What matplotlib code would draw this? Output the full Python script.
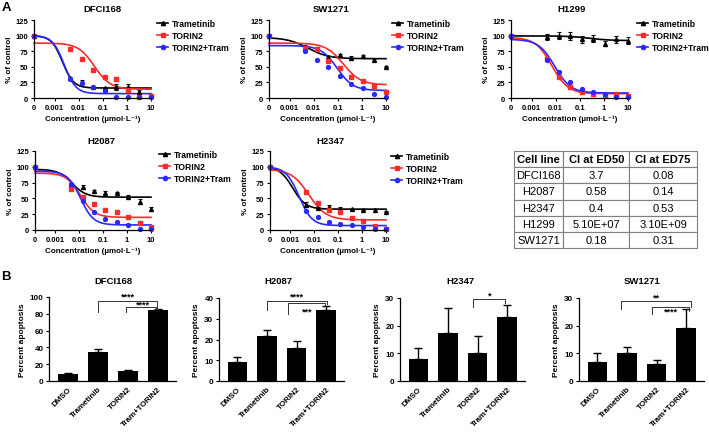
import numpy as np
import matplotlib
matplotlib.use('Agg')
import matplotlib.pyplot as plt
from matplotlib.lines import Line2D

plt.rcParams['font.family'] = ['Liberation Sans', 'DejaVu Sans']
plt.rcParams['font.weight'] = 'bold'
plt.rcParams['axes.labelweight'] = 'bold'
plt.rcParams['axes.linewidth'] = 0.9

W, H = 709, 439

# ---- panel A data: dose points (umol/L), control drawn at "0" ----
conc = [0.0046, 0.0137, 0.041, 0.123, 0.37, 1.11, 3.33, 10]
zero_pos = -3.85  # log10 position of the "0" tick
xtick_labels = ['0', '0.001', '0.01', '0.1', '1', '10']
control = 100

# fitted curves: [top, bottom, logIC50, hill]
dfci_tram = [32, 26, 18, 16, 18, 17, 10, 4]
dfci_tram_err = [2, 3, 2, 2, 5, 5, 3, 1]
dfci_tor = [78, 62, 45, 34, 31, 13, 2, 3]
dfci_combo = [30, 24, 18, 12, 2, 1, 1, 2]
dfci_fit = [[100, 16, -2.67, 1.9], [88, 14, -1.35, 1.3], [100, 7, -2.60, 1.8]]

sw_tram = [82, 78, 65, 69, 64, 67, 61, 50]
sw_tram_err = [3, 3, 3, 2, 3, 2, 2, 1]
sw_tor = [80, 78, 60, 48, 33, 28, 19, 10]
sw_combo = [75, 61, 49, 36, 22, 16, 6, 1]
sw_fit = [[97, 63, -2.24, 1.0], [88, 21, -0.77, 1.2], [84, 12, -1.03, 1.3]]

h1299_tram = [98, 100, 99, 94, 95, 87, 94, 92]
h1299_tram_err = [5, 6, 6, 6, 6, 4, 6, 6]
h1299_tor = [62, 34, 18, 10, 6, 5, 6, 4]
h1299_combo = [61, 42, 26, 14, 10, 6, 2, 1]
h1299_fit = [[99.5, 92, -0.6, 1.0], [97, 7, -2.16, 1.3], [94, 8, -2.04, 1.3]]

h2087_tram = [72, 68, 61, 59, 59, 52, 45, 33]
h2087_tram_err = [3, 3, 2, 2, 1, 3, 4, 3]
h2087_tor = [65, 52, 41, 31, 29, 21, 11, 4]
h2087_combo = [72, 46, 28, 17, 12, 8, 2, 1]
h2087_fit = [[96, 52, -2.30, 1.5], [90, 20, -1.95, 1.5], [93, 8, -1.95, 1.6]]

h2347_tram = [40, 35, 36, 34, 33, 32, 31, 29]
h2347_tram_err = [4, 2, 3, 2, 1, 1, 2, 1]
h2347_tor = [60, 42, 32, 28, 19, 14, 6, 1]
h2347_combo = [30, 20, 13, 9, 8, 4, 1, 1]
h2347_fit = [[100, 33, -2.9, 1.6], [96, 16, -2.23, 1.2], [100, 7, -2.64, 1.6]]

# ---- table ----
table_cols = ['Cell line', 'CI at ED50', 'CI at ED75']
table_lines = ['DFCI168', 'H2087', 'H2347', 'H1299', 'SW1271']
ci_ed50 = ['3.7', '0.58', '0.4', '5.10E+07', '0.18']
ci_ed75 = ['0.08', '0.14', '0.53', '3.10E+09', '0.31']

# ---- panel B data ----
groups = ['DMSO', 'Trametinib', 'TORIN2', 'Tram+TORIN2']
apo_dfci = [8, 35, 12.5, 84.5]
apo_dfci_err = [1, 3.5, 1, 1]
apo_h2087 = [9, 21.5, 16, 34]
apo_h2087_err = [2.5, 3, 3.5, 2]
apo_h2347 = [8, 17.5, 10.3, 23]
apo_h2347_err = [4, 9, 6, 4.5]
apo_sw = [7, 10.2, 6, 19]
apo_sw_err = [3.3, 2, 1.7, 7]

RED = '#ff2a2a'
BLUE = '#2a2aff'

fig = plt.figure(figsize=(W / 100, H / 100), dpi=100)


def box(l, t, r, b):
    return [l / W, 1 - b / H, (r - l) / W, (b - t) / H]


def ftext(x, y, s, **kw):
    fig.text(x / W, 1 - y / H, s, ha='center', va='center', **kw)


def logistic(x, p):
    top, bot, c, h = p
    return bot + (top - bot) / (1 + 10 ** ((x - c) * h))


def dose_panel(px, title, txy, tram, tram_err, tor, combo, fits, lxy):
    ax = fig.add_axes(box(*px))
    xs = [zero_pos] + list(np.log10(conc))
    xx = np.linspace(zero_pos, 1, 300)
    series = [(tram, tram_err, fits[0], 'k', '^'),
              (tor, None, fits[1], RED, 's'),
              (combo, None, fits[2], BLUE, 'o')]
    for vals, err, fit, col, mk in series:
        ax.plot(xx, logistic(xx, fit), color=col, lw=1.2, clip_on=False)
        e = None if err is None else [0] + err
        ax.errorbar(xs, [control] + vals, yerr=e, fmt=mk, color=col, ms=2.8,
                    capsize=1.5, elinewidth=0.8, capthick=0.8, clip_on=False)
    ax.set_xlim(zero_pos, 1)
    ax.set_ylim(0, 125)
    ax.set_xticks([zero_pos, -3, -2, -1, 0, 1])
    ax.set_xticklabels(xtick_labels)
    ax.set_yticks([0, 25, 50, 75, 100, 125])
    ax.tick_params(labelsize=5.5, length=2.5, width=0.8, pad=1.5)
    for s in ['top', 'right']:
        ax.spines[s].set_visible(False)
    ax.set_ylabel('% of control', fontsize=5.8, labelpad=2)
    ax.set_xlabel('Concentration (\u00b5mol\u00b7L\u207b\u00b9)', fontsize=5.8, labelpad=3)
    ftext(txy[0], txy[1], title, fontsize=6.8, fontweight='bold')
    handles = [Line2D([], [], color='k', marker='^', ms=3, lw=1.2),
               Line2D([], [], color=RED, marker='s', ms=3, lw=1.2),
               Line2D([], [], color=BLUE, marker='o', ms=3, lw=1.2)]
    ax.legend(handles, ['Trametinib', 'TORIN2', 'TORIN2+Tram'], loc='upper left',
              bbox_to_anchor=(lxy[0] / W, 1 - lxy[1] / H), bbox_transform=fig.transFigure,
              frameon=False, fontsize=6.2, handlelength=1.3, handletextpad=0.4,
              labelspacing=0.35, borderaxespad=0, borderpad=0)
    return ax


dose_panel((34, 21, 151, 99), 'DFCI168', (102, 10), dfci_tram, dfci_tram_err,
           dfci_tor, dfci_combo, dfci_fit, (157, 20))
dose_panel((269, 21, 386, 99), 'SW1271', (331, 10), sw_tram, sw_tram_err,
           sw_tor, sw_combo, sw_fit, (392, 20))
dose_panel((511, 21, 628, 99), 'H1299', (572, 10), h1299_tram, h1299_tram_err,
           h1299_tor, h1299_combo, h1299_fit, (637, 20))
dose_panel((35, 152, 151, 231), 'H2087', (101, 142), h2087_tram, h2087_tram_err,
           h2087_tor, h2087_combo, h2087_fit, (159, 151))
dose_panel((270, 152, 386, 231), 'H2347', (330, 142), h2347_tram, h2347_tram_err,
           h2347_tor, h2347_combo, h2347_fit, (391, 153))

# table
tax = fig.add_axes(box(514, 152, 697, 249))
tax.axis('off')
cells = [[a, b, c] for a, b, c in zip(table_lines, ci_ed50, ci_ed75)]
tbl = tax.table(cellText=cells, colLabels=table_cols, colWidths=[0.27, 0.36, 0.37],
                cellLoc='center', bbox=[0, 0, 1, 1])
tbl.auto_set_font_size(False)
for (r, c), cell in tbl.get_celld().items():
    cell.set_edgecolor('#7f7f7f')
    cell.set_linewidth(0.8)
    cell.get_text().set_fontsize(8)
    cell.get_text().set_fontweight('bold' if r == 0 else 'normal')


# panel B
def bracket(ax, x1, x2, y, yl1, yl2, label, tx, ty):
    ax.plot([x1, x1, x2, x2], [yl1, y, y, yl2], color='#333333', lw=0.7, clip_on=False)
    ax.text(tx, ty, label, ha='center', va='center', fontsize=6.5, fontweight='bold', clip_on=False)


def bar_panel(px, title, txy, vals, errs, ymax, step):
    ax = fig.add_axes(box(*px))
    x = np.arange(len(groups))
    ax.bar(x, vals, width=0.66, color='k')
    ax.errorbar(x, vals, yerr=[[0] * len(errs), errs], fmt='none', ecolor='k',
                elinewidth=1, capsize=3, capthick=1)
    ax.set_xlim(-0.62, 3.6)
    ax.set_ylim(0, ymax)
    ax.set_yticks(np.arange(0, ymax + 1, step))
    ax.set_xticks(x)
    ax.set_xticklabels(groups, rotation=45, ha='right', rotation_mode='anchor')
    ax.tick_params(axis='y', labelsize=5.8, length=2.5, width=0.8, pad=1.5)
    ax.tick_params(axis='x', labelsize=5.8, length=0, pad=3)
    for s in ['top', 'right']:
        ax.spines[s].set_visible(False)
    ax.set_ylabel('Percent apoptosis', fontsize=6, labelpad=3)
    ftext(txy[0], txy[1], title, fontsize=6.8, fontweight='bold')
    return ax


ax = bar_panel((49, 298, 176, 382), 'DFCI168', (113, 282), apo_dfci, apo_dfci_err, 100, 20)
bracket(ax, 1.0, 2.97, 95, 82, 86, '****', 2.0, 101)
bracket(ax, 1.93, 2.95, 88, 82, 86, '****', 2.5, 92)

ax = bar_panel((219, 299, 344, 382), 'H2087', (278, 282), apo_h2087, apo_h2087_err, 40, 10)
bracket(ax, 1.0, 3.03, 38.6, 34.2, 37, '****', 2.0, 40.8)
bracket(ax, 1.72, 2.97, 37.4, 32.3, 36, '***', 2.35, 33.6)

ax = bar_panel((400, 299, 525, 382), 'H2347', (460, 282), apo_h2347, apo_h2347_err, 30, 10)
bracket(ax, 1.86, 2.93, 29.6, 26.7, 28.2, '*', 2.41, 31.2)

ax = bar_panel((579, 299, 704, 382), 'SW1271', (642, 282), apo_sw, apo_sw_err, 30, 10)
bracket(ax, 0.8, 3.16, 28.9, 26, 26.7, '**', 1.98, 30.3)
bracket(ax, 1.84, 3.09, 26.7, 24.2, 25.3, '****', 2.47, 25.3)

ftext(6, 8, 'A', fontsize=9.5, fontweight='bold')
ftext(6, 277, 'B', fontsize=9.5, fontweight='bold')

fig.savefig('out.png', dpi=100)
